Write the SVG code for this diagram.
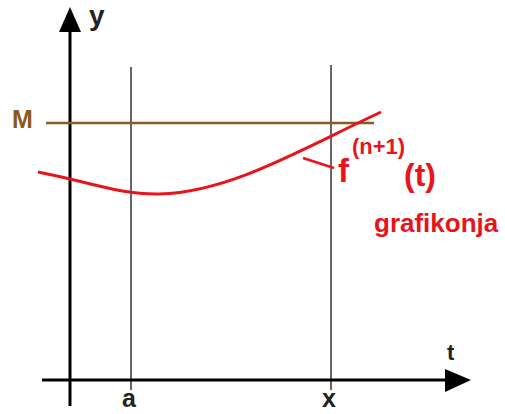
<svg xmlns="http://www.w3.org/2000/svg" width="505" height="414" viewBox="0 0 505 414">
<style>
text{font-family:"Liberation Sans",Arial,sans-serif;font-weight:bold}
.ax{stroke:#000;stroke-width:3;fill:none}
.gl{stroke:#333;stroke-width:1.5;fill:none}
.red{fill:#e8141c}
</style>
<rect width="505" height="414" fill="#fff"/>
<g id="gridlines">
<line class="gl" x1="131" y1="67" x2="131" y2="390"/>
<line class="gl" x1="331" y1="65" x2="331" y2="390"/>
</g>
<g id="axes">
<line class="ax" x1="70" y1="406" x2="70" y2="28"/>
<polygon points="70,7 59,32 81,32" fill="#000"/>
<line class="ax" x1="42" y1="380" x2="448" y2="380"/>
<polygon points="471,380 445,369 445,392" fill="#000"/>
</g>
<g id="M-line">
<line x1="46" y1="123" x2="374" y2="123" stroke="#8b5a22" stroke-width="2.4"/>
</g>
<g id="curve">
<path d="M38,172 C90,182 120,195 160,194 C230,192 300,150 381,112" fill="none" stroke="#e8141c" stroke-width="3"/>
<line x1="303" y1="158" x2="334" y2="168" stroke="#e8141c" stroke-width="2.5"/>
</g>
<g id="labels">
<text x="89" y="25" font-size="28" fill="#222">y</text>
<text x="447" y="360" font-size="22" fill="#222">t</text>
<text x="122" y="407" font-size="25" fill="#222">a</text>
<text x="322" y="407" font-size="25" fill="#222">x</text>
<text x="12" y="128" font-size="25" fill="#8b5a1a">M</text>
<text class="red" x="338" y="182" font-size="33">f</text>
<text class="red" x="352" y="154" font-size="22">(n+1)</text>
<text class="red" x="404" y="186" font-size="32">(t)</text>
<text class="red" x="374" y="232" font-size="26">grafikonja</text>
</g>
</svg>
